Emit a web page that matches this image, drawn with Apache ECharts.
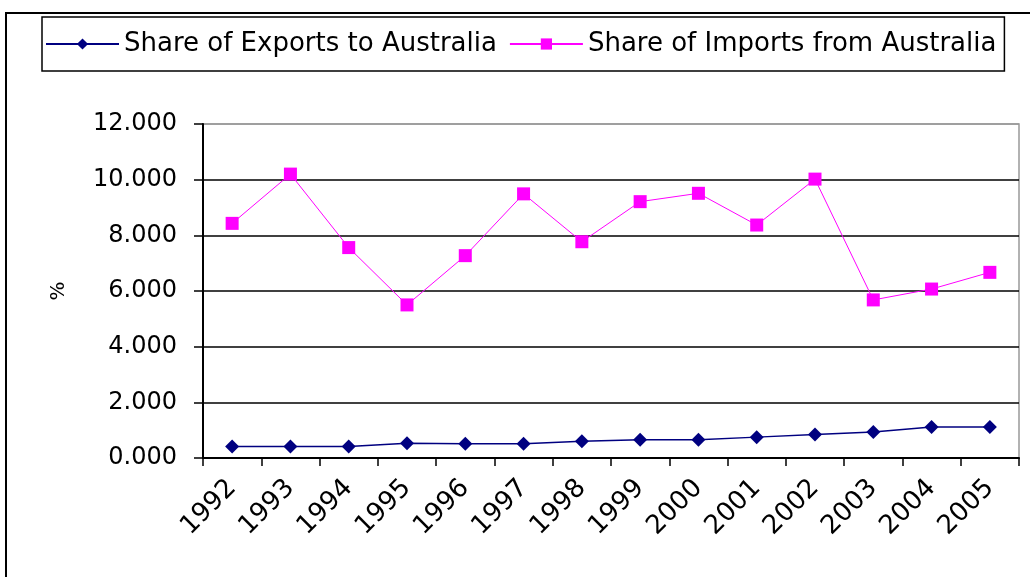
<!DOCTYPE html>
<html>
<head>
<meta charset="utf-8">
<script src="https://cdn.jsdelivr.net/npm/echarts@6/dist/echarts.min.js"></script>
<style>
  html, body { margin: 0; padding: 0; background: #fff; }
  #frame { position: absolute; left: 5px; top: 12px; width: 1025px; height: 565px;
           border-left: 2px solid #000; border-top: 2px solid #000; box-sizing: border-box; }
  #chart { position: absolute; left: 0; top: 0; width: 1030px; height: 577px; }
</style>
</head>
<body>
<div id="frame"></div>
<div id="chart"></div>
<script>
// данные
const years = ['1992', '1993', '1994', '1995', '1996', '1997', '1998',
               '1999', '2000', '2001', '2002', '2003', '2004', '2005']
const exportsShare = [0.41, 0.41, 0.41, 0.53, 0.51, 0.51, 0.60,
                      0.66, 0.66, 0.75, 0.84, 0.93, 1.11, 1.11]
const importsShare = [8.43, 10.20, 7.56, 5.50, 7.27, 9.49, 7.77,
                      9.21, 9.51, 8.37, 10.02, 5.68, 6.07, 6.67]
const yTicks = {min: 0, max: 12, interval: 2}

const font = 'DejaVu Sans, Verdana, sans-serif'

let chart = echarts.init(document.getElementById('chart'), null, {renderer: 'canvas'})

chart.setOption({
    animation: false,
    backgroundColor: 'transparent',
    textStyle: {fontFamily: font},
    legend: {
        left: 42,
        top: 17,
        padding: [14, 8, 14, 3],
        itemGap: 12,
        itemWidth: 73,
        itemHeight: 14,
        borderColor: '#000',
        borderWidth: 1.5,
        textStyle: {fontSize: 26, color: '#000', fontFamily: font},
        data: ['Share of Exports to Australia', 'Share of Imports from Australia'],
    },
    grid: {left: 203, right: 11, top: 124, bottom: 119, show: true, borderColor: '#999', borderWidth: 1.5},
    xAxis: {
        type: 'category',
        data: years,
        boundaryGap: true,
        axisLine: {lineStyle: {color: '#000', width: 2}},
        axisTick: {show: true, length: 8, lineStyle: {color: '#000', width: 1.5}},
        axisLabel: {rotate: 45, margin: 26, fontSize: 26, color: '#000', fontFamily: font, interval: 0},
    },
    yAxis: {
        type: 'value',
        min: yTicks.min,
        max: yTicks.max,
        interval: yTicks.interval,
        name: '%',
        nameLocation: 'middle',
        nameRotate: 90,
        nameGap: 134,
        nameTextStyle: {fontSize: 20, color: '#000', fontFamily: font},
        axisLine: {show: true, lineStyle: {color: '#000', width: 2}},
        axisTick: {show: true, length: 9, lineStyle: {color: '#000', width: 1.5}},
        axisLabel: {fontSize: 24, color: '#000', margin: 26, fontFamily: font,
                    formatter: v => v.toFixed(3)},
        splitLine: {show: true, lineStyle: {color: ['#000', '#000', '#000', '#000', '#000', '#000', '#999'], width: 1.5}},
    },
    series: [
        {
            name: 'Share of Exports to Australia',
            type: 'line',
            data: exportsShare,
            symbol: 'diamond',
            symbolSize: 14,
            itemStyle: {color: '#000080'},
            lineStyle: {color: '#000080', width: 1.5},
        },
        {
            name: 'Share of Imports from Australia',
            type: 'line',
            data: importsShare,
            symbol: 'rect',
            symbolSize: 13,
            itemStyle: {color: '#ff00ff'},
            lineStyle: {color: '#ff00ff', width: 1},
        },
    ],
})
</script>
</body>
</html>
